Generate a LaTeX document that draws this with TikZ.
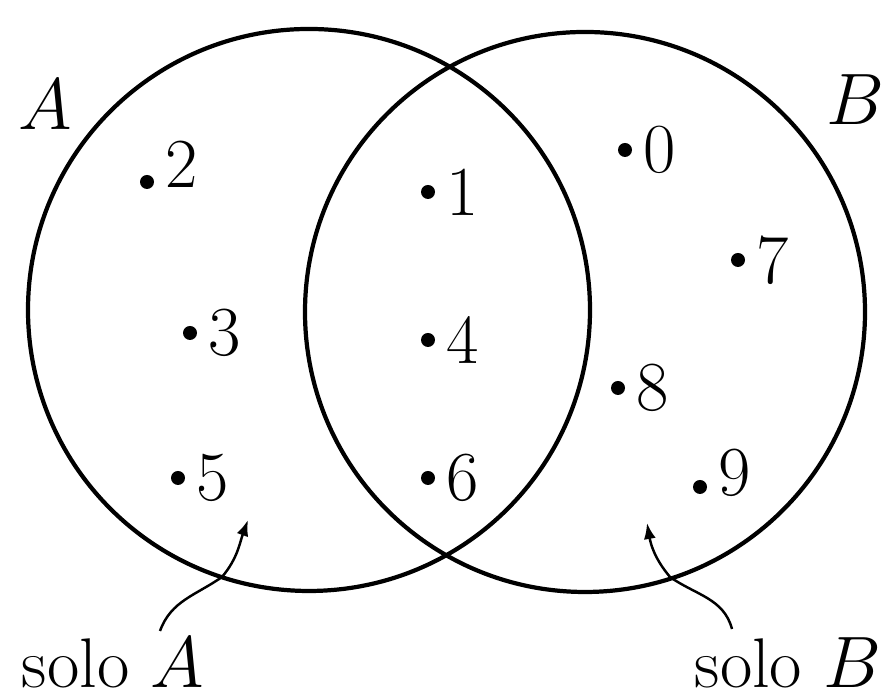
\documentclass[tikz,border=0pt]{standalone}
\usepackage{amsmath,amssymb}
\usepackage{tikz}
\usetikzlibrary{arrows.meta, positioning}

\begin{document}
\begin{tikzpicture}[>=stealth, font=\fontsize{20}{24}\selectfont,
    set/.style={draw, circle, line width=1.2pt, inner sep=0pt},
    elem/.style={circle, fill, inner sep=0pt, minimum size=1.4mm},
    every label/.style={inner sep=0pt},
    label distance=3pt,
    callout/.style={line width=0.7pt, -{Latex[length=1.6mm, width=1.2mm]}}]
    \useasboundingbox (0, 0) rectangle (8.83, 6.97);

    % the two sets
    \node[set, minimum size=5.62cm] (setA) at (3.09, 3.87) {};
    \node[set, minimum size=5.60cm] (setB) at (5.85, 3.85) {};
    \node (nameA) at (0.45, 5.92) {$A$};
    \node (nameB) at (8.55, 5.97) {$B$};

    % elements
    \node[elem, label={[yshift=5pt]right:2}] (e2) at (1.47, 5.15) {};
    \node[elem, label={right:3}] (e3) at (1.90, 3.64) {};
    \node[elem, label={right:5}] (e5) at (1.78, 2.19) {};
    \node[elem, label={right:1}] (e1) at (4.28, 5.05) {};
    \node[elem, label={right:4}] (e4) at (4.28, 3.57) {};
    \node[elem, label={right:6}] (e6) at (4.28, 2.19) {};
    \node[elem, label={right:0}] (e0) at (6.25, 5.47) {};
    \node[elem, label={right:7}] (e7) at (7.38, 4.37) {};
    \node[elem, label={right:8}] (e8) at (6.18, 3.09) {};
    \node[elem, label={[yshift=4pt]right:9}] (e9) at (7.00, 2.10) {};

    % callouts
    \node[inner sep=0pt] (soloA) at (1.13, 0.34) {solo $A$};
    \node[inner sep=0pt] (soloB) at (7.88, 0.34) {solo $B$};
    \coordinate (endA) at (1.60, 0.66);
    \coordinate (crossA) at (2.22, 1.20);
    \coordinate (tipA) at (2.48, 1.77);
    \coordinate (endB) at (7.32, 0.68);
    \coordinate (crossB) at (6.70, 1.20);
    \coordinate (tipB) at (6.47, 1.74);
    \draw[callout] (endA) to[out=70, in=215] (crossA) to[out=50, in=-110] (tipA);
    \draw[callout] (endB) to[out=105, in=-35] (crossB) to[out=130, in=-80] (tipB);
\end{tikzpicture}
\end{document}
